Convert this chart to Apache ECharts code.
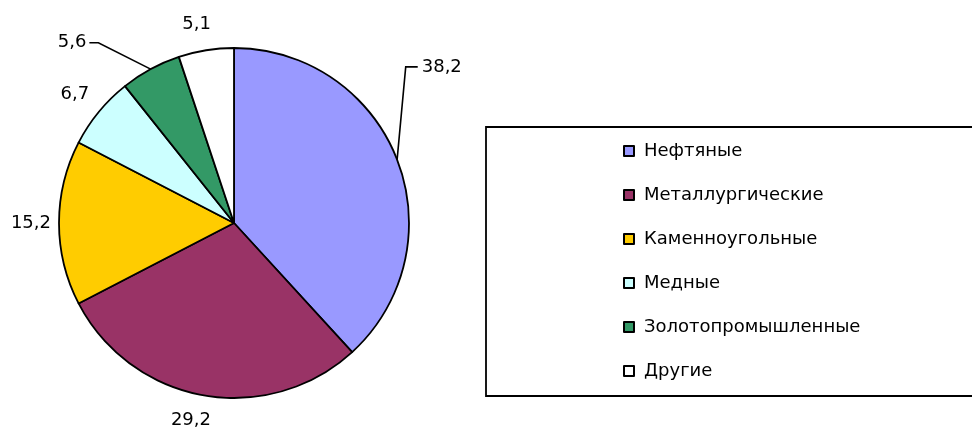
<!DOCTYPE html>
<html>
<head>
<meta charset="utf-8">
<script src="https://cdn.jsdelivr.net/npm/echarts@6/dist/echarts.min.js"></script>
<style>
html,body{margin:0;padding:0;background:#fff;}
#chart{width:972px;height:430px;}
</style>
</head>
<body>
<div id="chart"></div>
<script>
// данные диаграммы
var names = ['Нефтяные', 'Металлургические', 'Каменноугольные', 'Медные', 'Золотопромышленные', 'Другие'];
var values = [38.2, 29.2, 15.2, 6.7, 5.6, 5.1];
var colors = ['#9999FF', '#993366', '#FFCC00', '#CCFFFF', '#339966', '#FFFFFF'];

// длины выносок подписей (стиль, не данные)
var lineLen = [256, 25, 8, 28, 30, 26];
var lineLen2 = [-214, -12, 0, -12, 50, -9];
var showLine = [true, false, false, false, true, false];

var myChart = echarts.init(document.getElementById('chart'));

var seriesData = [];
for (var i = 0; i < names.length; i++) {
	seriesData.push({
		name: names[i],
		value: values[i],
		itemStyle: { color: colors[i] },
		labelLine: { show: showLine[i], length: lineLen[i], length2: lineLen2[i] }
	});
}

var option = {
	animation: false,
	backgroundColor: '#fff',
	legend: {
		orient: 'vertical',
		left: 486,
		top: 127,
		padding: [14, 400, 15, 137],
		itemGap: 24,
		itemWidth: 10,
		itemHeight: 10,
		icon: 'rect',
		borderColor: '#000',
		borderWidth: 1.8,
		textStyle: {
			fontFamily: 'DejaVu Sans',
			fontSize: 18,
			lineHeight: 20,
			color: '#000',
			padding: [0, 0, 0, 5]
		},
		data: names
	},
	series: [{
		type: 'pie',
		center: [234, 223],
		radius: 175,
		startAngle: 90,
		clockwise: true,
		avoidLabelOverlap: false,
		itemStyle: { borderColor: '#000', borderWidth: 1.8 },
		emphasis: { disabled: true },
		label: {
			position: 'outside',
			distanceToLabelLine: 0,
			bleedMargin: 0,
			fontFamily: 'DejaVu Sans',
			fontSize: 18,
			color: '#000',
			formatter: function (p) {
				return String(p.value).replace('.', ',');
			}
		},
		labelLine: {
			lineStyle: { color: '#000', width: 1.6 },
			minTurnAngle: 0,
			maxSurfaceAngle: 180
		},
		labelLayout: function (params) {
			var pts = params.labelLinePoints;
			var r = params.labelRect;
			if (!pts) return {};
			var cy = r.y + r.height / 2;
			if (params.dataIndex === 0) {
				return { labelLinePoints: [pts[0], [r.x - 16, cy], [r.x - 4, cy]] };
			}
			if (params.dataIndex === 4) {
				return { labelLinePoints: [pts[0], [r.x + r.width + 12, cy], [r.x + r.width + 3, cy]] };
			}
			return {};
		},
		data: seriesData
	}]
};
myChart.setOption(option);
</script>
</body>
</html>
